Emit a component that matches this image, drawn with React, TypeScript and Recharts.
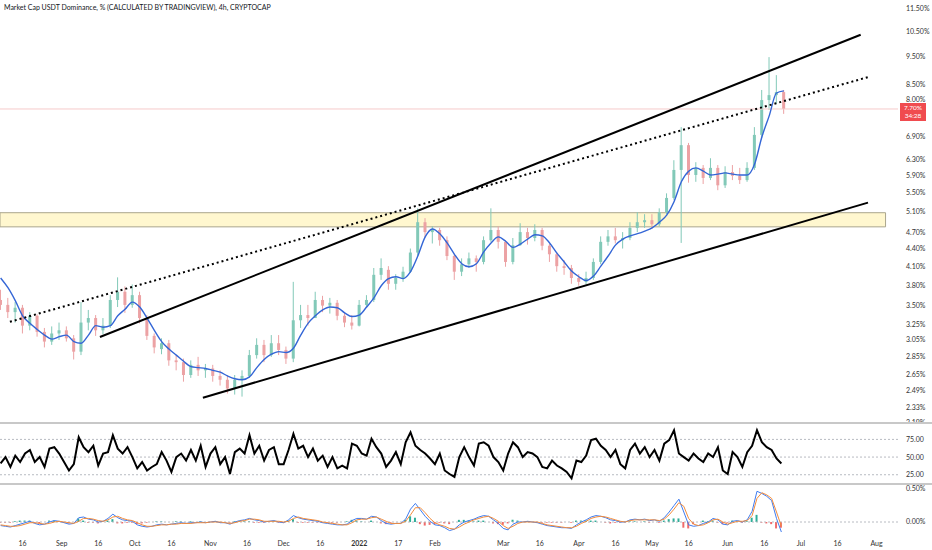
import {
  Bar,
  Cell,
  ComposedChart,
  Line,
  LineChart,
  ReferenceArea,
  ReferenceLine,
  XAxis,
  YAxis,
} from "recharts";

// x is measured in days from 2021-08-01
const X_DOMAIN: [number, number] = [5.74, 373.8];

const X_TICK_DAYS = [15, 31, 46, 61, 76, 92, 107, 122, 137, 153, 169, 184, 212, 227, 243, 258, 273, 288, 304, 319, 334, 349, 365];
const X_TICK_LABELS = ["16", "Sep", "16", "Oct", "16", "Nov", "16", "Dec", "16", "2022", "17", "Feb", "Mar", "16", "Apr", "16", "May", "16", "Jun", "16", "Jul", "16", "Aug"];

const PRICE_TICKS = [11.5, 10.5, 9.5, 8.5, 8, 6.9, 6.3, 5.9, 5.5, 5.1, 4.7, 4.4, 4.1, 3.8, 3.5, 3.25, 3.05, 2.85, 2.65, 2.49, 2.33, 2.19];

// candles, one every 3 days starting on day 6
const OPEN = [3.58, 3.51, 3.41, 3.47, 3.23, 3.36, 3.15, 3.03, 3.13, 3.17,
  3.07, 2.91, 3.27, 3.33, 3.17, 3.23, 3.58, 3.70, 3.51, 3.65,
  3.33, 3.10, 2.94, 3.01, 2.81, 2.79, 2.65, 2.76, 2.70, 2.72,
  2.64, 2.60, 2.51, 2.60, 2.64, 2.87, 2.99, 2.87, 3.01, 2.93,
  2.83, 3.30, 3.37, 3.33, 3.58, 3.50, 3.54, 3.36, 3.27, 3.23,
  3.51, 3.58, 3.96, 4.04, 3.82, 3.91, 4.01, 4.33, 4.89, 4.70,
  4.74, 4.55, 4.27, 4.01, 4.13, 4.23, 4.17, 4.55, 4.74, 4.52,
  4.17, 4.46, 4.70, 4.59, 4.74, 4.45, 4.30, 4.10, 4.07, 3.91,
  3.85, 3.91, 4.17, 4.52, 4.62, 4.55, 4.59, 4.78, 4.89, 4.93,
  4.85, 5.09, 5.39, 6.03, 6.66, 5.91, 6.08, 5.84, 6.08, 5.67,
  5.98, 5.89, 5.79, 6.08, 6.94, 7.98, 8.14, 8.24];
const CLOSE = [3.51, 3.41, 3.47, 3.23, 3.36, 3.15, 3.03, 3.13, 3.17, 3.07,
  2.91, 3.27, 3.33, 3.17, 3.23, 3.58, 3.70, 3.51, 3.65, 3.33,
  3.10, 2.96, 3.01, 2.81, 2.79, 2.65, 2.76, 2.70, 2.72, 2.64,
  2.60, 2.51, 2.60, 2.64, 2.87, 2.99, 2.87, 3.01, 2.93, 2.83,
  3.30, 3.37, 3.33, 3.58, 3.50, 3.54, 3.36, 3.27, 3.23, 3.51,
  3.58, 3.96, 4.07, 3.82, 3.91, 4.01, 4.33, 4.89, 4.70, 4.74,
  4.55, 4.27, 4.01, 4.13, 4.23, 4.17, 4.55, 4.74, 4.52, 4.17,
  4.46, 4.70, 4.59, 4.74, 4.45, 4.30, 4.10, 4.07, 3.91, 3.85,
  3.91, 4.17, 4.52, 4.62, 4.55, 4.59, 4.78, 4.89, 4.93, 4.85,
  5.09, 5.39, 6.03, 6.66, 5.91, 6.08, 5.84, 6.08, 5.67, 5.98,
  5.89, 5.79, 6.08, 6.94, 7.98, 8.14, 8.24, 7.70];
const HIGH = [3.73, 3.61, 3.55, 3.51, 3.41, 3.38, 3.20, 3.22, 3.27, 3.22,
  3.11, 3.55, 3.44, 3.37, 3.33, 3.65, 3.92, 3.78, 3.81, 3.70,
  3.37, 3.13, 3.07, 3.05, 2.87, 2.83, 2.81, 2.85, 2.77, 2.76,
  2.70, 2.64, 2.65, 2.70, 2.93, 3.07, 3.05, 3.11, 3.11, 2.97,
  3.85, 3.51, 3.51, 3.70, 3.64, 3.61, 3.58, 3.41, 3.37, 3.58,
  3.65, 4.07, 4.23, 4.10, 3.97, 4.09, 4.40, 5.17, 4.97, 4.81,
  4.78, 4.62, 4.30, 4.23, 4.33, 4.28, 4.62, 5.17, 4.81, 4.55,
  4.59, 4.87, 4.78, 4.85, 4.78, 4.48, 4.33, 4.20, 4.12, 3.97,
  4.01, 4.23, 4.62, 4.74, 4.78, 4.70, 4.89, 5.09, 5.05, 5.05,
  5.17, 5.49, 6.27, 7.16, 6.72, 6.22, 6.15, 6.32, 6.15, 6.12,
  6.15, 6.08, 6.22, 7.16, 8.31, 9.48, 8.82, 8.31];
const LOW = [3.44, 3.33, 3.27, 3.13, 3.17, 3.09, 2.96, 2.99, 3.05, 3.03,
  2.82, 2.87, 3.17, 3.10, 3.12, 3.20, 3.48, 3.40, 3.47, 3.26,
  3.05, 2.89, 2.88, 2.75, 2.70, 2.58, 2.62, 2.64, 2.62, 2.58,
  2.54, 2.46, 2.45, 2.43, 2.62, 2.83, 2.79, 2.85, 2.87, 2.77,
  2.79, 3.20, 3.23, 3.37, 3.41, 3.39, 3.30, 3.21, 3.18, 3.22,
  3.47, 3.55, 3.88, 3.73, 3.73, 3.85, 3.99, 4.27, 4.59, 4.49,
  4.45, 4.20, 3.88, 3.94, 4.07, 4.01, 4.13, 4.52, 4.40, 4.09,
  4.13, 4.45, 4.47, 4.53, 4.37, 4.17, 4.01, 3.96, 3.82, 3.79,
  3.81, 3.88, 4.13, 4.45, 4.49, 4.40, 4.55, 4.70, 4.78, 4.76,
  4.81, 5.05, 5.35, 4.50, 5.73, 5.75, 5.70, 5.79, 5.56, 5.61,
  5.79, 5.70, 5.75, 6.03, 6.85, 7.67, 7.86, 7.55];
const MA = [3.91, 3.76, 3.57, 3.36, 3.26, 3.18, 3.11, 3.06, 3.09, 3.11,
  3.03, 3.01, 3.11, 3.23, 3.21, 3.23, 3.36, 3.45, 3.55, 3.48,
  3.33, 3.17, 3.03, 2.94, 2.87, 2.80, 2.74, 2.73, 2.72, 2.70,
  2.68, 2.64, 2.61, 2.60, 2.63, 2.73, 2.82, 2.88, 2.91, 2.90,
  2.95, 3.11, 3.26, 3.36, 3.44, 3.48, 3.47, 3.40, 3.35, 3.37,
  3.48, 3.61, 3.79, 3.90, 3.93, 3.90, 4.01, 4.27, 4.61, 4.76,
  4.67, 4.50, 4.30, 4.14, 4.09, 4.14, 4.34, 4.50, 4.61, 4.53,
  4.42, 4.48, 4.57, 4.65, 4.63, 4.50, 4.32, 4.17, 4.02, 3.93,
  3.87, 3.94, 4.10, 4.27, 4.46, 4.57, 4.63, 4.67, 4.72, 4.78,
  4.89, 5.03, 5.31, 5.75, 6.00, 6.08, 6.00, 5.91, 5.93, 5.96,
  5.93, 5.91, 5.91, 6.17, 6.88, 7.49, 8.21, 8.28];

// oscillators, one value every 2 days starting on day 6
const RSI = [41, 50, 36, 52, 43, 55, 60, 43, 50, 36,
  62, 64, 55, 43, 31, 40, 78, 64, 57, 66,
  38, 55, 57, 81, 62, 55, 64, 50, 34, 43,
  31, 36, 40, 57, 45, 29, 50, 55, 45, 60,
  45, 66, 36, 55, 64, 40, 50, 26, 57, 62,
  55, 81, 55, 66, 45, 60, 64, 40, 40, 60,
  83, 62, 66, 50, 62, 45, 52, 36, 50, 34,
  38, 34, 69, 66, 55, 52, 76, 64, 55, 36,
  45, 57, 40, 71, 85, 66, 60, 55, 48, 40,
  55, 31, 26, 22, 50, 64, 50, 38, 69, 71,
  66, 50, 43, 31, 55, 71, 64, 50, 57, 55,
  50, 36, 34, 45, 38, 34, 29, 20, 45, 43,
  52, 74, 76, 66, 60, 50, 60, 40, 34, 60,
  69, 55, 64, 50, 60, 45, 69, 74, 88, 55,
  50, 45, 55, 48, 43, 55, 50, 64, 31, 26,
  57, 50, 36, 57, 66, 88, 71, 64, 60, 48,
  41];
const MACD = [-0.05, -0.06, -0.07, -0.05, -0.03, -0.01, 0.01, -0.02, -0.04, -0.03,
  0.0, 0.02, 0.01, -0.01, -0.03, -0.02, 0.06, 0.07, 0.04, 0.03,
  0.0, 0.01, 0.05, 0.11, 0.06, 0.03, 0.02, 0.01, -0.04, -0.06,
  -0.07, -0.06, -0.04, -0.03, -0.04, -0.03, -0.02, -0.01, -0.02, -0.01,
  -0.01, 0.0, -0.01, 0.0, 0.01, -0.01, -0.01, -0.03, 0.0, 0.02,
  0.03, 0.05, 0.03, 0.02, 0.0, 0.01, 0.02, 0.0, -0.01, 0.03,
  0.09, 0.06, 0.04, 0.03, 0.02, 0.01, -0.01, -0.02, -0.03, -0.04,
  -0.04, -0.03, 0.02, 0.05, 0.05, 0.04, 0.08, 0.07, 0.02, -0.02,
  -0.03, -0.02, -0.02, 0.04, 0.18, 0.26, 0.17, 0.08, 0.01, -0.04,
  -0.05, -0.08, -0.12, -0.10, -0.04, 0.0, 0.02, 0.04, 0.07, 0.09,
  0.08, 0.03, -0.02, -0.09, -0.11, -0.03, 0.0, 0.0, 0.01, 0.0,
  -0.01, -0.03, -0.05, -0.06, -0.07, -0.08, -0.08, -0.09, -0.04, 0.0,
  0.03, 0.07, 0.09, 0.08, 0.06, 0.03, 0.02, 0.0, 0.0, 0.03,
  0.04, 0.03, 0.04, 0.02, 0.03, 0.01, 0.06, 0.14, 0.23, 0.32,
  0.14, -0.04, -0.06, -0.05, -0.02, 0.0, 0.05, 0.03, -0.03, -0.04,
  0.01, 0.02, 0.0, 0.03, 0.15, 0.43, 0.40, 0.36, 0.30, 0.05,
  -0.14];
const SIGNAL = [-0.04, -0.05, -0.06, -0.06, -0.05, -0.03, -0.01, -0.01, -0.02, -0.03,
  -0.02, 0.0, 0.01, 0.0, -0.01, -0.02, 0.01, 0.05, 0.05, 0.04,
  0.02, 0.01, 0.03, 0.07, 0.08, 0.05, 0.03, 0.02, -0.01, -0.04,
  -0.06, -0.06, -0.05, -0.04, -0.04, -0.03, -0.03, -0.02, -0.02, -0.02,
  -0.01, -0.01, -0.01, 0.0, 0.0, 0.0, -0.01, -0.02, -0.01, 0.01,
  0.02, 0.04, 0.04, 0.03, 0.01, 0.01, 0.01, 0.01, 0.0, 0.01,
  0.05, 0.07, 0.05, 0.04, 0.03, 0.02, 0.0, -0.01, -0.02, -0.03,
  -0.04, -0.04, -0.01, 0.03, 0.04, 0.04, 0.06, 0.07, 0.04, 0.01,
  -0.02, -0.02, -0.02, 0.01, 0.10, 0.20, 0.20, 0.13, 0.05, -0.01,
  -0.04, -0.06, -0.09, -0.10, -0.07, -0.03, 0.0, 0.03, 0.05, 0.07,
  0.08, 0.05, 0.01, -0.05, -0.09, -0.06, -0.02, 0.0, 0.0, 0.0,
  0.0, -0.02, -0.04, -0.05, -0.06, -0.07, -0.08, -0.08, -0.06, -0.02,
  0.01, 0.05, 0.07, 0.08, 0.07, 0.05, 0.03, 0.01, 0.0, 0.02,
  0.03, 0.03, 0.03, 0.03, 0.03, 0.02, 0.04, 0.10, 0.18, 0.27,
  0.22, 0.05, -0.03, -0.05, -0.04, -0.01, 0.03, 0.04, 0.0, -0.03,
  -0.01, 0.01, 0.01, 0.02, 0.09, 0.33, 0.41, 0.38, 0.33, 0.14,
  -0.06];
const HIST = [-0.01, -0.01, -0.01, 0.01, 0.02, 0.02, 0.02, -0.01, -0.02, 0.0,
  0.02, 0.02, 0.0, -0.01, -0.02, 0.0, 0.05, 0.02, -0.01, -0.01,
  -0.02, 0.0, 0.02, 0.04, -0.02, -0.02, -0.01, -0.01, -0.03, -0.02,
  -0.01, 0.0, 0.01, 0.01, 0.0, 0.0, 0.01, 0.01, 0.0, 0.01,
  0.0, 0.01, 0.0, 0.0, 0.01, -0.01, 0.0, -0.01, 0.01, 0.01,
  0.01, 0.01, -0.01, -0.01, -0.01, 0.0, 0.01, -0.01, -0.01, 0.02,
  0.04, -0.01, -0.01, -0.01, -0.01, -0.01, -0.01, -0.01, -0.01, -0.01,
  0.0, 0.01, 0.03, 0.02, 0.01, 0.0, 0.02, 0.0, -0.02, -0.03,
  -0.01, 0.0, 0.0, 0.03, 0.08, 0.06, -0.03, -0.05, -0.04, -0.03,
  -0.01, -0.02, -0.03, 0.0, 0.03, 0.03, 0.02, 0.01, 0.02, 0.02,
  0.0, -0.02, -0.03, -0.04, -0.02, 0.03, 0.02, 0.0, 0.01, 0.0,
  -0.01, -0.01, -0.01, -0.01, -0.01, -0.01, 0.0, -0.01, 0.02, 0.02,
  0.02, 0.02, 0.02, 0.0, -0.01, -0.02, -0.01, -0.01, 0.0, 0.01,
  0.01, 0.0, 0.01, -0.01, 0.0, -0.01, 0.02, 0.04, 0.05, 0.05,
  -0.08, -0.09, -0.03, 0.0, 0.02, 0.01, 0.02, -0.01, -0.03, -0.01,
  0.02, 0.01, -0.01, 0.01, 0.06, 0.10, -0.01, -0.02, -0.03, -0.09,
  -0.08];

const UP = "#82c9b8";
const DOWN = "#eca2a4";
const AXIS_TEXT = { fontSize: 7, fill: "#333" };

const candles = CLOSE.map((close, i) => ({
  day: 6 + i * 3,
  open: OPEN[i],
  close,
  high: HIGH[i],
  low: LOW[i],
  ma: MA[i],
}));

const oscRows = RSI.map((rsi, i) => ({
  day: 6 + i * 2,
  rsi,
  macd: MACD[i] ?? 0,
  signal: SIGNAL[i] ?? 0,
  hist: HIST[i] ?? 0,
}));

function Candle(props: any) {
  const { x, y, width, height, payload } = props;
  if (x == null || !payload) return null;
  const top = Math.min(y, y + height);
  const h = Math.abs(height);
  const span = Math.log(payload.high) - Math.log(payload.low) || 1;
  const toY = (p: number) => top + ((Math.log(payload.high) - Math.log(p)) / span) * h;
  const color = payload.close >= payload.open ? UP : DOWN;
  const cx = x + width / 2;
  const bodyTop = toY(Math.max(payload.open, payload.close));
  const bodyBottom = toY(Math.min(payload.open, payload.close));
  return (
    <g>
      <line x1={cx} x2={cx} y1={top} y2={top + h} stroke={color} strokeWidth={1} />
      <rect x={cx - 1.5} y={bodyTop} width={3} height={Math.max(1, bodyBottom - bodyTop)} fill={color} />
    </g>
  );
}

function DateTick({ x, y, payload }: any) {
  const label = X_TICK_LABELS[X_TICK_DAYS.indexOf(payload.value)];
  return (
    <text x={x} y={y} dy={12} textAnchor="middle" fontSize={7} fill="#333" fontWeight={label === "2022" ? 700 : 400}>
      {label}
    </text>
  );
}

export default function App() {
  return (
    <div
      style={{
        position: "relative",
        width: 932,
        height: 550,
        background: "#fff",
        overflow: "hidden",
        fontFamily: "Lato, 'Noto Sans', sans-serif",
      }}
    >
      <style>{"body{margin:0}"}</style>

      <div style={{ position: "absolute", left: 0, top: 0 }}>
        <ComposedChart width={932} height={423} data={candles} margin={{ top: 0, right: 0, bottom: 0, left: 0 }}>
          <XAxis type="number" dataKey="day" domain={X_DOMAIN} allowDataOverflow hide />
          <YAxis
            orientation="right"
            width={34}
            scale="log"
            domain={[2.186, 11.92]}
            ticks={PRICE_TICKS}
            interval={0}
            allowDataOverflow
            axisLine={false}
            tickLine={false}
            tick={AXIS_TEXT}
            tickFormatter={(v: number) => `${v.toFixed(2)}%`}
          />
          <ReferenceArea x1={5.74} x2={368.7} y1={4.8} y2={5.08} fill="#fff7cf" fillOpacity={1} stroke="#aaa58c" strokeWidth={1} />
          <ReferenceLine y={7.7} stroke="#f6caca" strokeWidth={1} />
          <Bar dataKey={(d: any) => [d.low, d.high]} barSize={3} shape={<Candle />} isAnimationActive={false} />
          <Line type="monotone" dataKey="ma" stroke="#3466d6" strokeWidth={1.4} dot={false} activeDot={false} isAnimationActive={false} />
          <ReferenceLine segment={[{ x: 46.7, y: 3.086 }, { x: 358.5, y: 10.37 }]} stroke="#000" strokeWidth={2} />
          <ReferenceLine segment={[{ x: 9.8, y: 3.28 }, { x: 361.9, y: 8.76 }]} stroke="#000" strokeWidth={2} strokeDasharray="2 3" />
          <ReferenceLine segment={[{ x: 88.9, y: 2.419 }, { x: 361.5, y: 5.29 }]} stroke="#000" strokeWidth={2} />
        </ComposedChart>
      </div>

      <div style={{ position: "absolute", left: 4, top: 3, fontSize: 7, color: "#131722", background: "#fff" }}>
        Market Cap USDT Dominance, % (CALCULATED BY TRADINGVIEW), 4h, CRYPTOCAP
      </div>

      <div
        style={{
          position: "absolute",
          left: 900,
          top: 103,
          width: 26,
          height: 18,
          background: "#f04b4f",
          color: "#fff",
          fontSize: 6.5,
          lineHeight: "8px",
          textAlign: "center",
          paddingTop: 1,
          boxSizing: "border-box",
        }}
      >
        <div>7.70%</div>
        <div>34:28</div>
      </div>

      <div style={{ position: "absolute", left: 0, top: 423, background: "#fff" }}>
        <LineChart width={932} height={61} data={oscRows} margin={{ top: 0, right: 0, bottom: 0, left: 0 }}>
          <XAxis type="number" dataKey="day" domain={X_DOMAIN} allowDataOverflow hide />
          <YAxis
            orientation="right"
            width={34}
            domain={[11.9, 98.2]}
            ticks={[25, 50, 75]}
            allowDataOverflow
            axisLine={false}
            tickLine={false}
            tick={AXIS_TEXT}
            tickFormatter={(v: number) => v.toFixed(2)}
          />
          <ReferenceLine y={75} stroke="#b8bbc2" strokeDasharray="2 2" />
          <ReferenceLine y={50} stroke="#b8bbc2" strokeDasharray="2 2" />
          <ReferenceLine y={25} stroke="#b8bbc2" strokeDasharray="2 2" />
          <Line type="linear" dataKey="rsi" stroke="#000" strokeWidth={2} dot={false} activeDot={false} isAnimationActive={false} />
        </LineChart>
      </div>

      <div style={{ position: "absolute", left: 0, top: 484, background: "#fff" }}>
        <ComposedChart width={932} height={66} data={oscRows} margin={{ top: 0, right: 0, bottom: 0, left: 0 }}>
          <XAxis
            type="number"
            dataKey="day"
            domain={X_DOMAIN}
            allowDataOverflow
            ticks={X_TICK_DAYS}
            interval={0}
            height={18}
            axisLine={false}
            tickLine={false}
            tickSize={0}
            tick={<DateTick />}
          />
          <YAxis
            orientation="right"
            width={34}
            domain={[-0.14, 0.532]}
            ticks={[0, 0.5]}
            allowDataOverflow
            axisLine={false}
            tickLine={false}
            tick={AXIS_TEXT}
            tickFormatter={(v: number) => `${v.toFixed(2)}%`}
          />
          <ReferenceLine y={0} stroke="#b8bbc2" strokeDasharray="2 2" />
          <Bar dataKey="hist" barSize={2} isAnimationActive={false}>
            {oscRows.map((row) => (
              <Cell key={row.day} fill={row.hist >= 0 ? "#2fae98" : "#f06b6b"} />
            ))}
          </Bar>
          <Line type="linear" dataKey="macd" stroke="#3f7cf0" strokeWidth={1} dot={false} activeDot={false} isAnimationActive={false} />
          <Line type="linear" dataKey="signal" stroke="#f28c3c" strokeWidth={1} dot={false} activeDot={false} isAnimationActive={false} />
        </ComposedChart>
      </div>

      <div style={{ position: "absolute", left: 0, top: 422, width: 932, height: 2, background: "#c8c8c8" }} />
      <div style={{ position: "absolute", left: 0, top: 483, width: 932, height: 2, background: "#c8c8c8" }} />
    </div>
  );
}
